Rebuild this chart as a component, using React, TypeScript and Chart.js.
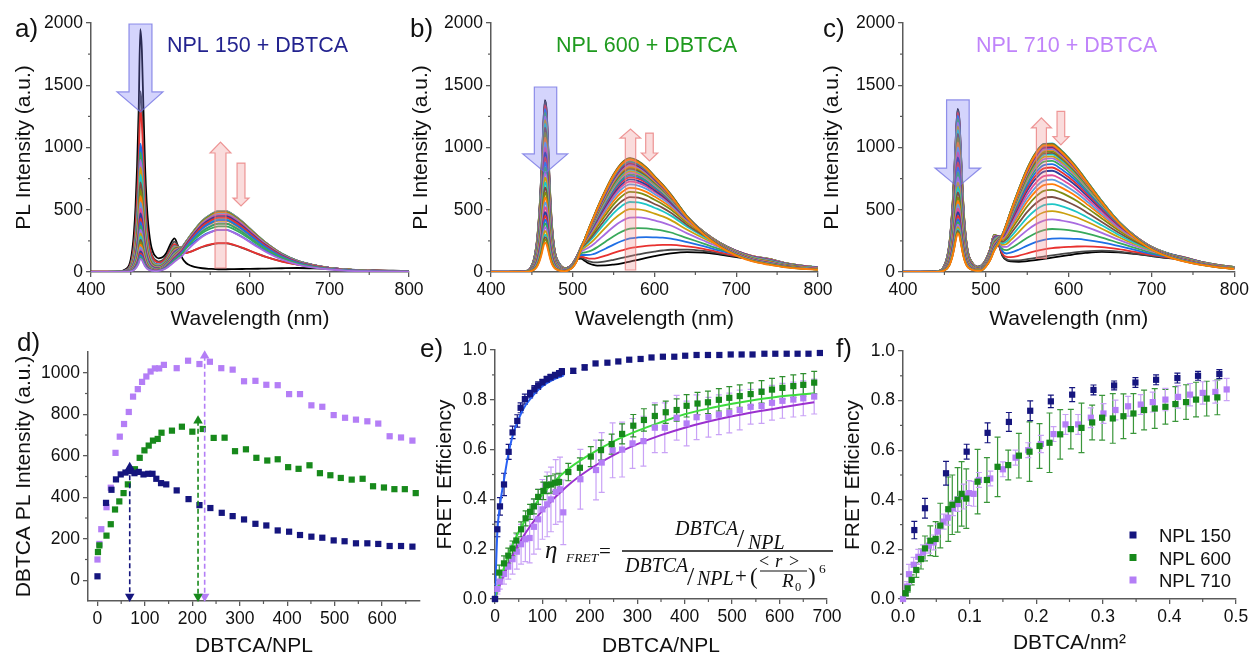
import React, { useEffect, useRef } from 'react';
import { Chart, registerables } from 'chart.js';
Chart.register(...registerables);

const FONT = '"Liberation Sans", Arial, Helvetica, sans-serif';
const SERIF = '"Liberation Serif", "Times New Roman", serif';
const AXIS = '#5a5a5a';
const INK = '#111111';
const NAVY = '#15157e';
const GREEN = '#17891b';
const LAV = '#b47ef6';
const NAVY_T = '#23238f';
const GREEN_T = '#1f9a1f';
const LAV_T = '#c084fa';

// ---------------- spectra (panels a-c) ----------------
const wavelengths = [400,420,435,440,445,448,450,452,454,456,458,460,462,464,466,468,470,472,474,476,478,480,485,490,495,500,505,510,515,520,525,530,540,550,560,570,580,590,600,610,620,640,660,680,700,720,740,760,780,800];

const nplA = [3,3,5,10,28,55,100,180,310,520,850,1300,1950,1780,1300,850,560,380,270,200,160,135,110,118,155,225,270,195,110,70,52,42,30,25,22,22,23,24,25,26,27,30,32,30,26,20,15,12,10,8];
const dbtcaA = [0,0,0,0,0,0,0,0,0,0,0,0,0,0,0,0,0,0,0,0,0,0,0.01,0.03,0.07,0.13,0.2,0.28,0.37,0.48,0.58,0.67,0.83,0.93,0.99,0.99,0.92,0.82,0.7,0.58,0.47,0.29,0.17,0.1,0.055,0.03,0.017,0.01,0.006,0.004];
const nplB = [2,2,3,6,12,30,55,90,150,240,380,580,850,1180,1380,1300,1000,680,430,270,170,115,55,32,38,65,100,108,88,68,57,52,53,60,70,84,98,113,127,140,150,160,156,140,120,104,95,66,48,36];
const dbtcaB = [0,0,0,0,0,0,0,0,0,0,0,0,0,0,0,0,0,0,0,0,0,0,0,0,0.01,0.03,0.08,0.18,0.28,0.38,0.47,0.56,0.72,0.86,0.96,1.0,0.97,0.91,0.83,0.75,0.66,0.46,0.31,0.2,0.125,0.075,0.048,0.03,0.02,0.014];
const nplC = [2,2,3,6,14,30,55,90,145,230,370,560,820,1120,1310,1230,950,650,420,270,175,120,62,42,55,100,180,290,230,130,95,85,82,88,96,105,115,125,135,145,153,162,158,145,128,112,100,72,52,38];
const dbtcaC = [0,0,0,0,0,0,0,0,0,0,0,0,0,0,0,0,0,0,0,0,0,0,0,0,0,0.02,0.05,0.1,0.17,0.26,0.36,0.46,0.64,0.8,0.92,0.99,0.99,0.94,0.87,0.79,0.7,0.52,0.36,0.24,0.15,0.095,0.06,0.04,0.025,0.015];

// peak heights of each recorded spectrum (NPL band, DBTCA band)
const nplPeaksA = [1950,1450,1300,1030,960,900,840,780,720,660,610,560,510,470,430,400,370,340,310,285,260,240,220,200,180,165,150,135,120,105];
const dbtcaPeaksA = [0,215,220,330,360,385,405,420,435,448,458,466,472,478,483,487,490,490,488,486,483,480,475,470,462,452,440,420,390,340];
const nplPeaksB = [1380,1370,1340,1310,1280,1250,1220,1190,1160,1120,1080,1040,1000,960,920,880,840,800,760,720,680,640,600,560,520,480,450,420,390,360,330,300,280,260,235];
const dbtcaPeaksB = [0,45,110,190,270,360,430,490,530,575,610,640,665,685,705,720,735,750,765,778,790,802,813,824,834,844,853,862,870,878,886,893,898,895,890];
const nplPeaksC = [1310,1300,1280,1255,1230,1200,1170,1140,1110,1080,1040,1000,960,920,880,840,800,760,720,680,640,600,570,540,510,480,450,425,400,380,360,345,330,320,310];
const dbtcaPeaksC = [0,20,80,160,240,320,390,450,510,570,620,660,700,740,770,800,830,855,875,895,910,925,940,950,960,970,980,990,997,1003,1008,1012,1010,1006,1000];

const spectraXTicks = [400,500,600,700,800];
const spectraXMinor = [450,550,650,750];
const spectraYTicks = [0,500,1000,1500,2000];
const spectraYMinor = [250,750,1250,1750];

// arrows: [shaftL, shaftR, headL, headR, tailY, headBaseY, tipY] in data units
const arrowsA = [[447.8,476.7,432.7,490.5,1992,1446,1285],[556,569.8,549.7,576,32,956,1044],[583.7,593.7,578.6,598.8,875,594,530]];
const arrowsB = [[453,480.4,438.8,493.8,1486,948,795],[564.3,577,557.8,583.1,16,1076,1149],[589.2,598.5,583.9,604,1116,956,892]];
const arrowsC = [[452.6,479.9,438.6,493.6,1382,835,682],[561,573.1,555,579.2,110,1157,1238],[585.9,595.2,581,600.4,1290,1087,1020]];

const spectraPalette = ['#e8312f','#1f6fe5','#39a95b','#a86be0','#caa00e','#1ec6c6','#7b4e45','#7f8c12','#ff7d0a','#5f9be0','#e24b98','#2d3e9c'];

// ---------------- panel d ----------------
const dNavyX = [0,18,29.5,39,49,59,69,78,87,97,107,116,124,134,145,167,192,215,238,262,285,309,333,356,380,404,427,451,474,498,521,545,569,592,616,640,664];
const dNavyY = [19,373,436,486,510,519,526,516,522,510,513,513,489,468,462,433,391,362,348,325,309,293,272,264,240,234,218,210,205,192,188,178,178,175,165,165,162];
const dGreenX = [1,4,19,28,37,46,55,64,79,89,99,108,117,127,135,157,178,200,222,245,268,290,313,335,358,380,402,424,447,469,491,513,536,559,581,604,626,648,671];
const dGreenY = [136,168,215,270,341,380,420,462,535,590,626,649,673,681,711,721,740,716,729,686,687,622,631,590,577,583,545,537,554,516,506,493,485,489,453,447,439,439,420];
const dLavX = [0,4,8,19,28,38,47,56,66,75,85,94,103,112,121,130,140,167,191,215,237,261,285,309,333,356,380,404,427,451,474,498,522,545,569,592,616,640,664];
const dLavY = [100,175,246,352,446,614,692,753,811,885,921,956,982,1006,1021,1021,1038,1022,1058,1042,1053,1022,1015,959,961,942,940,897,897,843,836,796,783,774,766,755,694,688,673];
const dArrowX = [68,212,226];
const dArrowTop = [545,769,1082];
const dArrowBottom = -78;
const dXTicks = [0,100,200,300,400,500,600];
const dXMinor = [50,150,250,350,450,550,650];
const dYTicks = [0,200,400,600,800,1000];
const dYMinor = [100,300,500,700,900];

// ---------------- panel e ----------------
const eNavyX = [0,5,10.5,19,28.8,37,47,54,63,74,83,91,100,109,117,126.5,135,141,165,189,212,237,260,283,307,330,354,378,401,425,449,473,497,520,543,568,591,615,638,661,685];
const eNavyY = [0,0.28,0.372,0.46,0.591,0.669,0.715,0.768,0.803,0.823,0.842,0.857,0.87,0.882,0.89,0.898,0.905,0.913,0.916,0.93,0.946,0.949,0.954,0.961,0.964,0.97,0.973,0.973,0.977,0.98,0.98,0.98,0.982,0.982,0.982,0.985,0.985,0.985,0.985,0.985,0.988];
const eNavyErr = [0,0.03,0.035,0.045,0.03,0.025,0.025,0.02,0.02,0.015,0.015,0.015,0.012,0.012,0.012,0.012,0.012,0.012,0.01,0.01,0,0,0,0,0,0,0,0,0,0,0,0,0,0,0,0,0,0,0,0,0];
const eGreenX = [0,9,19,28,37,45,55,64.6,74,82,91,102,109,118,126.5,135,154.6,179,202,223.5,246,268,291.6,314,337,360,383,404,427,449,472,494,516,539,562,584,606,629,650,673];
const eGreenY = [0,0.106,0.143,0.174,0.203,0.235,0.28,0.324,0.35,0.372,0.41,0.434,0.458,0.46,0.467,0.47,0.51,0.527,0.572,0.598,0.622,0.663,0.696,0.719,0.735,0.75,0.759,0.776,0.785,0.79,0.8,0.808,0.815,0.823,0.832,0.841,0.848,0.855,0.86,0.869];
const eGreenErr = [0,0.03,0.03,0.03,0.03,0.03,0.03,0.03,0.03,0.03,0.03,0.035,0.035,0.035,0.035,0.035,0.035,0.04,0.04,0.04,0.04,0.04,0.045,0.045,0.045,0.045,0.045,0.045,0.045,0.045,0.045,0.045,0.045,0.045,0.045,0.045,0.045,0.045,0.045,0.045];
const eLavX = [0,5,10,19,28,37,46,55,64,73,82,91,100,110,118,128,137,144,180,213,225,248,268,290,313,337,358,383,404,425,450,472,494,516,539,562,584,606,629,650,673];
const eLavY = [0,0.04,0.07,0.1,0.13,0.16,0.19,0.22,0.24,0.245,0.29,0.32,0.36,0.38,0.4,0.43,0.44,0.348,0.481,0.518,0.548,0.597,0.6,0.625,0.634,0.688,0.688,0.728,0.705,0.73,0.73,0.74,0.747,0.759,0.772,0.775,0.788,0.796,0.801,0.806,0.813];
const eLavErr = [0,0.02,0.03,0.04,0.05,0.06,0.07,0.08,0.09,0.1,0.11,0.12,0.12,0.13,0.13,0.13,0.13,0.13,0.12,0.12,0.12,0.11,0.11,0.1,0.1,0.1,0.1,0.09,0.09,0.09,0.08,0.08,0.08,0.08,0.07,0.07,0.07,0.07,0.07,0.07,0.07];
const eFitBlueX = [0,2,5,10,19,28,37,46,55,65,75,85,100,115,130,145];
const eFitBlueY = [0,0.12,0.27,0.37,0.48,0.58,0.655,0.705,0.745,0.78,0.805,0.828,0.855,0.873,0.887,0.898];
const eFitX = [0,10,25,50,75,100,150,200,250,300,350,400,450,500,550,600,673];
const eFitGreenY = [0,0.07,0.16,0.27,0.35,0.42,0.515,0.58,0.633,0.675,0.71,0.742,0.765,0.784,0.8,0.813,0.826];
const eFitPurpleY = [0,0.055,0.125,0.22,0.295,0.355,0.45,0.522,0.578,0.622,0.658,0.688,0.713,0.734,0.752,0.768,0.79];
const eXTicks = [0,100,200,300,400,500,600,700];
const eXMinor = [50,150,250,350,450,550,650];
const effYTicks = [0,0.2,0.4,0.6,0.8,1.0];
const effYMinor = [0.1,0.3,0.5,0.7,0.9];

// ---------------- panel f ----------------
const fNavyX = [0.017,0.033,0.0646,0.0956,0.127,0.159,0.191,0.222,0.254,0.286,0.317,0.349,0.38,0.412,0.443,0.475];
const fNavyY = [0.278,0.366,0.507,0.594,0.67,0.714,0.759,0.797,0.824,0.843,0.861,0.873,0.884,0.891,0.9,0.907];
const fNavyErr = [0.035,0.04,0.048,0.03,0.04,0.038,0.04,0.025,0.028,0.02,0.018,0.02,0.02,0.02,0.018,0.018];
const fGreenX = [0.004,0.007,0.013,0.02,0.027,0.033,0.041,0.049,0.056,0.068,0.074,0.082,0.088,0.095,0.112,0.126,0.142,0.158,0.174,0.19,0.205,0.22,0.236,0.252,0.268,0.284,0.299,0.315,0.331,0.346,0.362,0.378,0.394,0.409,0.425,0.44,0.456,0.472];
const fGreenY = [0.023,0.043,0.077,0.117,0.161,0.204,0.235,0.242,0.296,0.362,0.38,0.4,0.424,0.405,0.473,0.48,0.533,0.54,0.578,0.594,0.617,0.63,0.664,0.685,0.69,0.712,0.731,0.728,0.737,0.748,0.762,0.768,0.775,0.786,0.794,0.804,0.808,0.813];
const fGreenErr = [0.01,0.015,0.02,0.03,0.04,0.05,0.06,0.07,0.09,0.13,0.12,0.13,0.13,0.12,0.13,0.09,0.12,0.06,0.09,0.12,0.09,0.12,0.1,0.08,0.1,0.07,0.09,0.1,0.09,0.08,0.08,0.08,0.07,0.07,0.07,0.07,0.07,0.07];
const fLavX = [0,0.006,0.009,0.016,0.023,0.03,0.039,0.046,0.052,0.061,0.067,0.075,0.082,0.091,0.099,0.106,0.114,0.131,0.15,0.169,0.188,0.207,0.226,0.244,0.263,0.282,0.301,0.319,0.338,0.357,0.375,0.394,0.413,0.431,0.45,0.469,0.486];
const fLavY = [0,0.05,0.1,0.138,0.17,0.188,0.215,0.228,0.272,0.312,0.328,0.366,0.383,0.413,0.427,0.424,0.48,0.486,0.523,0.57,0.6,0.625,0.665,0.704,0.704,0.731,0.748,0.762,0.777,0.784,0.794,0.804,0.815,0.824,0.831,0.835,0.845];
const fLavErr = [0,0.02,0.04,0.03,0.03,0.03,0.03,0.03,0.03,0.03,0.03,0.03,0.03,0.05,0.05,0.05,0.03,0.03,0.03,0.03,0.03,0.035,0.03,0.04,0.04,0.04,0.04,0.04,0.04,0.04,0.04,0.045,0.045,0.045,0.045,0.045,0.045];
const fXTicks = [0,0.1,0.2,0.3,0.4,0.5];
const fXMinor = [0.05,0.15,0.25,0.35,0.45];
const legendLabels = ['NPL 150','NPL 600','NPL 710'];

// ---------------- helpers ----------------
const curveColor = (i: number) => (i === 0 ? '#000000' : i === 1 ? '#484848' : spectraPalette[(i - 2) % spectraPalette.length]);

function spectraSets(npl: number[], dbt: number[], nplPeaks: number[], dbtPeaks: number[]) {
  const peak = Math.max(...npl);
  return nplPeaks.map((a, i) => ({
    type: 'line',
    data: wavelengths.map((w, j) => ({ x: w, y: (npl[j] * a) / peak + dbt[j] * dbtPeaks[i] })),
    borderColor: curveColor(i),
    borderWidth: 1.8,
    pointRadius: 0,
    cubicInterpolationMode: 'monotone',
    fill: false,
    order: -i,
  }));
}

const pts = (xs: number[], ys: number[]) => xs.map((x, i) => ({ x, y: ys[i] }));
const sq = (xs: number[], ys: number[], color: string) => ({
  type: 'line', showLine: false, data: pts(xs, ys), pointStyle: 'rect', pointRadius: 4.4,
  pointBackgroundColor: color, pointBorderWidth: 0, borderColor: color, backgroundColor: color, clip: false,
});
const fit = (xs: number[], ys: number[], color: string) => ({
  type: 'line', data: pts(xs, ys), borderColor: color, borderWidth: 2, pointRadius: 0,
  cubicInterpolationMode: 'monotone', fill: false,
});

const minorPlugin = (xm: number[], ym: number[]) => ({
  id: 'minorTicks',
  afterDraw(chart: any) {
    const { ctx } = chart; const xs = chart.scales.x; const ys = chart.scales.y;
    ctx.save(); ctx.strokeStyle = AXIS; ctx.lineWidth = 1.2;
    xm.forEach((v) => { const p = xs.getPixelForValue(v); ctx.beginPath(); ctx.moveTo(p, xs.top); ctx.lineTo(p, xs.top + 3); ctx.stroke(); });
    ym.forEach((v) => { const p = ys.getPixelForValue(v); ctx.beginPath(); ctx.moveTo(ys.right, p); ctx.lineTo(ys.right - 3, p); ctx.stroke(); });
    ctx.restore();
  },
});

const arrowPlugin = (arrows: number[][]) => ({
  id: 'bigArrows',
  afterDatasetsDraw(chart: any) {
    const { ctx } = chart; const xs = chart.scales.x; const ys = chart.scales.y;
    const X = (v: number) => xs.getPixelForValue(v); const Y = (v: number) => ys.getPixelForValue(v);
    ctx.save();
    arrows.forEach((a, k) => {
      const blue = k === 0;
      const [s1, s2, h1, h2, tail, base, tip] = a;
      const cx = (X(s1) + X(s2)) / 2;
      ctx.beginPath();
      ctx.moveTo(X(s1), Y(tail)); ctx.lineTo(X(s1), Y(base)); ctx.lineTo(X(h1), Y(base));
      ctx.lineTo(cx, Y(tip)); ctx.lineTo(X(h2), Y(base)); ctx.lineTo(X(s2), Y(base)); ctx.lineTo(X(s2), Y(tail));
      ctx.closePath();
      ctx.fillStyle = blue ? 'rgba(125,125,245,0.33)' : 'rgba(240,140,140,0.3)';
      ctx.strokeStyle = blue ? 'rgba(110,110,225,0.75)' : 'rgba(232,120,120,0.75)';
      ctx.lineWidth = 1.2;
      ctx.fill(); ctx.stroke();
    });
    ctx.restore();
  },
});

const errorPlugin = (sets: any[]) => ({
  id: 'errorBars',
  beforeDatasetsDraw(chart: any) {
    const { ctx } = chart; const xs = chart.scales.x; const ys = chart.scales.y;
    ctx.save(); ctx.lineWidth = 1.2;
    sets.forEach(([xv, yv, ev, color]: any) => {
      ctx.strokeStyle = color;
      xv.forEach((x: number, i: number) => {
        const e = ev[i]; if (!e) return;
        const px = xs.getPixelForValue(x); const t = ys.getPixelForValue(yv[i] + e); const b = ys.getPixelForValue(yv[i] - e);
        ctx.beginPath(); ctx.moveTo(px, t); ctx.lineTo(px, b);
        ctx.moveTo(px - 3, t); ctx.lineTo(px + 3, t); ctx.moveTo(px - 3, b); ctx.lineTo(px + 3, b); ctx.stroke();
      });
    });
    ctx.restore();
  },
});

const decoPlugin = (ox: number, oy: number, deco: any) => ({
  id: 'deco',
  afterDraw(chart: any) {
    const { ctx } = chart;
    ctx.save();
    (deco.rects || []).forEach(([x, y, s, c]: any) => { ctx.fillStyle = c; ctx.fillRect(x - ox - s / 2, y - oy - s / 2, s, s); });
    (deco.segs || []).forEach(([x1, y1, x2, y2, w, c]: any) => { ctx.strokeStyle = c; ctx.lineWidth = w; ctx.beginPath(); ctx.moveTo(x1 - ox, y1 - oy); ctx.lineTo(x2 - ox, y2 - oy); ctx.stroke(); });
    (deco.texts || []).forEach(([t, x, y, font, color]: any) => { ctx.font = font; ctx.fillStyle = color; ctx.textAlign = 'left'; ctx.textBaseline = 'alphabetic'; ctx.fillText(t, x - ox, y - oy); });
    ctx.restore();
  },
});

const intFmt = (v: number) => String(Math.round(v));
const oneFmt = (v: number) => v.toFixed(1);

function makePanels() {
  const label = (t: string, x: number, y: number) => [t, x, y, `26px ${FONT}`, INK];
  const it = (s: number) => `italic ${s}px ${SERIF}`;
  const rm = (s: number) => `${s}px ${SERIF}`;
  const dArrows = dArrowX.map((x, k) => {
    const c = [NAVY, GREEN, LAV][k];
    return {
      type: 'line', data: [{ x, y: dArrowTop[k] }, { x, y: dArrowBottom }], borderColor: c, borderWidth: 1.6,
      borderDash: [5, 3], pointStyle: 'triangle', pointRadius: 5.5, pointRotation: [0, 180],
      pointBackgroundColor: c, pointBorderWidth: 0, clip: false,
    };
  });
  const spec = { xMin: 400, xMax: 800, yMin: 0, yMax: 2000, xTicks: spectraXTicks, yTicks: spectraYTicks, xMinor: spectraXMinor, yMinor: spectraYMinor, xFmt: intFmt, yFmt: intFmt, xTitle: 'Wavelength (nm)', yTitle: 'PL Intensity (a.u.)', yWidth: 91, xHeight: 60, padTop: 23, xTitlePad: 0.4 };
  return [
    { ...spec, left: 0, top: 0, w: 430, h: 332, padRight: 21, yTitlePad: 11.4,
      datasets: spectraSets(nplA, dbtcaA, nplPeaksA, dbtcaPeaksA), arrows: arrowsA,
      deco: { texts: [label('a)', 15, 37), ['NPL 150 + DBTCA', 167, 51.5, `21.5px ${FONT}`, NAVY_T]] } },
    { ...spec, left: 400, top: 0, w: 440, h: 332, padRight: 22, yTitlePad: 8.4,
      datasets: spectraSets(nplB, dbtcaB, nplPeaksB, dbtcaPeaksB), arrows: arrowsB,
      deco: { texts: [label('b)', 410, 37), ['NPL 600 + DBTCA', 556, 51.5, `21.5px ${FONT}`, GREEN_T]] } },
    { ...spec, left: 812, top: 0, w: 440, h: 332, padRight: 17, yTitlePad: 7.9,
      datasets: spectraSets(nplC, dbtcaC, nplPeaksC, dbtcaPeaksC), arrows: arrowsC,
      deco: { texts: [label('c)', 823, 37), ['NPL 710 + DBTCA', 976, 51.5, `21.5px ${FONT}`, LAV_T]] } },
    { left: 0, top: 330, w: 430, h: 329, yWidth: 88, xHeight: 58, padTop: 22, padRight: 10, yTitlePad: 11.4, xTitlePad: 0.4,
      xMin: -20, xMax: 680, yMin: -100, yMax: 1100, xTicks: dXTicks, yTicks: dYTicks, xMinor: dXMinor, yMinor: dYMinor, xFmt: intFmt, yFmt: intFmt,
      xTitle: 'DBTCA/NPL', yTitle: 'DBTCA PL Intensity (a.u.)',
      datasets: [...dArrows, sq(dNavyX, dNavyY, NAVY), sq(dGreenX, dGreenY, GREEN), sq(dLavX, dLavY, LAV)],
      deco: { texts: [label('d)', 17, 351)] } },
    { left: 420, top: 330, w: 430, h: 329, yWidth: 75, xHeight: 60, padTop: 20, padRight: 23, yTitlePad: 12.4, xTitlePad: 0.4,
      xMin: 0, xMax: 700, yMin: 0, yMax: 1, xTicks: eXTicks, yTicks: effYTicks, xMinor: eXMinor, yMinor: effYMinor, xFmt: intFmt, yFmt: oneFmt,
      xTitle: 'DBTCA/NPL', yTitle: 'FRET Efficiency',
      datasets: [sq(eNavyX, eNavyY, NAVY), sq(eGreenX, eGreenY, GREEN), sq(eLavX, eLavY, LAV),
        fit(eFitBlueX, eFitBlueY, '#2760f5'), fit(eFitX, eFitGreenY, '#3cdc3c'), fit(eFitX, eFitPurpleY, '#9b30cf')],
      errs: [[eLavX, eLavY, eLavErr, '#c9a2f6'], [eGreenX, eGreenY, eGreenErr, '#2f8f2f'], [eNavyX, eNavyY, eNavyErr, NAVY]],
      deco: {
        texts: [label('e)', 420, 357),
          ['η', 545, 558, it(25), INK], ['FRET', 566, 562, it(13.5), INK], ['=', 599, 558, rm(21), INK],
          ['DBTCA', 675, 535, it(20), INK], ['/', 737, 547, rm(26), INK], ['NPL', 748, 549, it(20), INK],
          ['DBTCA', 625, 572, it(20), INK], ['/', 687, 585, rm(26), INK], ['NPL', 697, 585, it(20), INK],
          ['+', 735, 583, rm(21), INK], ['(', 750, 584, rm(23), INK],
          ['<', 759, 567, rm(18), INK], ['r', 775, 567, it(19), INK], ['>', 789, 567, rm(18), INK],
          ['R', 782, 587, it(19), INK], ['0', 795, 591, rm(12.5), INK], [')', 808, 584, rm(23), INK], ['6', 819, 573, rm(13.5), INK]],
        segs: [[622, 551, 833, 551, 1.3, INK], [760, 571, 807, 571, 1.1, INK]],
      } },
    { left: 820, top: 330, w: 432, h: 329, yWidth: 83, xHeight: 60, padTop: 21, padRight: 16, yTitlePad: 20.4, xTitlePad: 3.4,
      xMin: 0, xMax: 0.5, yMin: 0, yMax: 1, xTicks: fXTicks, yTicks: effYTicks, xMinor: fXMinor, yMinor: effYMinor, xFmt: oneFmt, yFmt: oneFmt,
      xTitle: 'DBTCA/nm²', yTitle: 'FRET Efficiency',
      datasets: [sq(fNavyX, fNavyY, NAVY), sq(fGreenX, fGreenY, GREEN), sq(fLavX, fLavY, LAV)],
      errs: [[fGreenX, fGreenY, fGreenErr, '#3a963a'], [fLavX, fLavY, fLavErr, '#c9a2f6'], [fNavyX, fNavyY, fNavyErr, NAVY]],
      deco: {
        texts: [label('f)', 836, 357),
          [legendLabels[0], 1159, 542, `18.5px ${FONT}`, INK], [legendLabels[1], 1159, 564.5, `18.5px ${FONT}`, INK], [legendLabels[2], 1159, 587, `18.5px ${FONT}`, INK]],
        rects: [[1133, 535, 7, NAVY], [1133, 557.5, 7, GREEN], [1133, 580, 7, LAV]],
      } },
  ];
}

function buildChart(canvas: HTMLCanvasElement, p: any) {
  const tickFont = { family: FONT, size: 17.5 };
  const titleFont = { family: FONT, size: 21 };
  const plugins: any[] = [minorPlugin(p.xMinor, p.yMinor), decoPlugin(p.left, p.top, p.deco)];
  if (p.arrows) plugins.push(arrowPlugin(p.arrows));
  if (p.errs) plugins.push(errorPlugin(p.errs));
  return new Chart(canvas, {
    type: 'line',
    data: { datasets: p.datasets },
    options: {
      animation: false, responsive: false, devicePixelRatio: 1, events: [],
      layout: { padding: { left: 0, top: p.padTop, right: p.padRight, bottom: 0 } },
      plugins: { legend: { display: false }, tooltip: { enabled: false } },
      scales: {
        x: {
          type: 'linear', position: 'bottom', min: p.xMin, max: p.xMax,
          afterBuildTicks: (s: any) => { s.ticks = p.xTicks.map((v: number) => ({ value: v })); },
          afterFit: (s: any) => { s.height = p.xHeight; },
          ticks: { font: tickFont, color: INK, padding: 3, autoSkip: false, maxRotation: 0, callback: (v: any) => p.xFmt(Number(v)) },
          grid: { drawOnChartArea: false, drawTicks: true, tickLength: 5, color: AXIS, lineWidth: 1.3 },
          border: { display: true, color: AXIS, width: 1.5 },
          title: { display: true, text: p.xTitle, font: titleFont, color: INK, padding: { top: 0, bottom: p.xTitlePad } },
        },
        y: {
          type: 'linear', position: 'left', min: p.yMin, max: p.yMax,
          afterBuildTicks: (s: any) => { s.ticks = p.yTicks.map((v: number) => ({ value: v })); },
          afterFit: (s: any) => { s.width = p.yWidth; },
          ticks: { font: tickFont, color: INK, padding: 3, autoSkip: false, callback: (v: any) => p.yFmt(Number(v)) },
          grid: { drawOnChartArea: false, drawTicks: true, tickLength: 5, color: AXIS, lineWidth: 1.3 },
          border: { display: true, color: AXIS, width: 1.5 },
          title: { display: true, text: p.yTitle, font: titleFont, color: INK, padding: { top: p.yTitlePad, bottom: 0 } },
        },
      },
    } as any,
    plugins,
  } as any);
}

const GEOM = [
  { left: 0, top: 0, w: 430, h: 332 },
  { left: 400, top: 0, w: 440, h: 332 },
  { left: 812, top: 0, w: 440, h: 332 },
  { left: 0, top: 330, w: 430, h: 329 },
  { left: 420, top: 330, w: 430, h: 329 },
  { left: 820, top: 330, w: 432, h: 329 },
];

export default function App() {
  const refs = useRef<(HTMLCanvasElement | null)[]>([]);
  useEffect(() => {
    const panels = makePanels();
    const charts = panels.map((p, i) => buildChart(refs.current[i] as HTMLCanvasElement, p));
    return () => charts.forEach((c) => c.destroy());
  }, []);
  return (
    <div style={{ position: 'fixed', left: 0, top: 0, width: 1252, height: 656, overflow: 'hidden', background: '#ffffff' }}>
      {GEOM.map((g, i) => (
        <canvas
          key={i}
          ref={(el) => { refs.current[i] = el; }}
          width={g.w}
          height={g.h}
          style={{ position: 'absolute', left: g.left, top: g.top, width: g.w, height: g.h }}
        />
      ))}
    </div>
  );
}
